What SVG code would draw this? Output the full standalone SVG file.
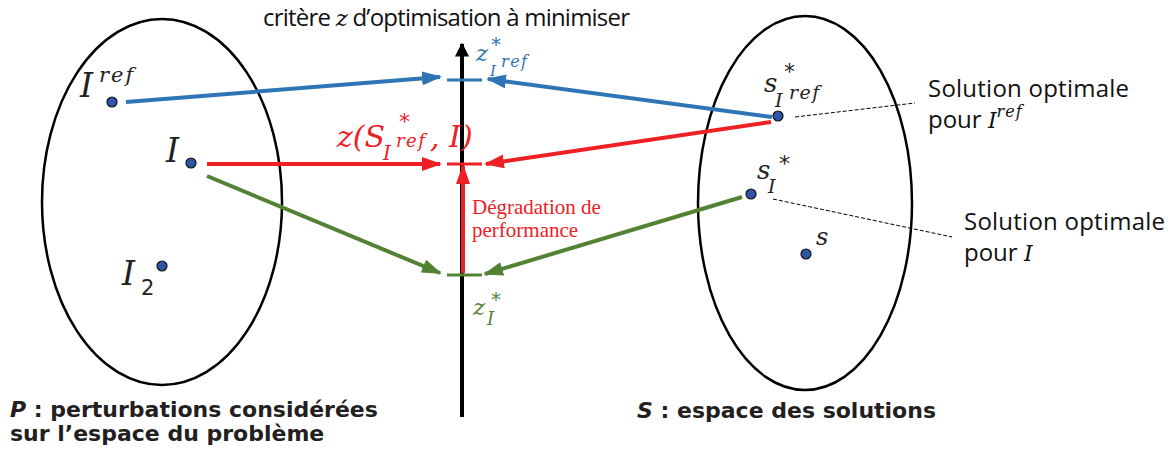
<svg xmlns="http://www.w3.org/2000/svg" width="1171" height="450" viewBox="0 0 1171 450">
<defs>
<style>
.ell{fill:none;stroke:#000;stroke-width:2.5}
.dot{fill:#2F55A4;stroke:#111;stroke-width:1.2}
.m{font-family:"DejaVu Serif","Liberation Serif",serif;font-style:italic}
.st{font-family:"DejaVu Sans",sans-serif}
.t{font-family:"Open Sans","Noto Sans",sans-serif;font-size:24px;fill:#111}
.b{font-family:"DejaVu Sans",Verdana,sans-serif;font-weight:bold;font-size:22px;fill:#231F20}
.blue{stroke:#2E75B6}
.red{stroke:#EE2024}
.green{stroke:#548235}
.ln{stroke-width:4;fill:none}
</style>
<marker id="ab" viewBox="0 0 10 7" refX="9" refY="3.5" markerWidth="5" markerHeight="3.5" orient="auto" markerUnits="strokeWidth"><path d="M0,0 L10,3.5 L0,7 z" fill="#2E75B6"/></marker>
<marker id="ar" viewBox="0 0 10 7" refX="9" refY="3.5" markerWidth="5" markerHeight="3.5" orient="auto" markerUnits="strokeWidth"><path d="M0,0 L10,3.5 L0,7 z" fill="#EE2024"/></marker>
<marker id="ag" viewBox="0 0 10 7" refX="9" refY="3.5" markerWidth="5" markerHeight="3.5" orient="auto" markerUnits="strokeWidth"><path d="M0,0 L10,3.5 L0,7 z" fill="#548235"/></marker>
<marker id="ak" viewBox="0 0 10 10" refX="9" refY="5" markerWidth="3.5" markerHeight="3.5" orient="auto" markerUnits="strokeWidth"><path d="M0,0 L10,5 L0,10 z" fill="#000"/></marker>
</defs>
<rect width="1171" height="450" fill="#fff"/>

<g id="spaceP">
<ellipse class="ell" cx="162" cy="202" rx="120" ry="183"/>
<text class="b" x="10" y="417"><tspan font-style="italic">P</tspan> : perturbations considérées</text>
<text class="b" x="10" y="441">sur l’espace du problème</text>
</g>
<g id="spaceS">
<ellipse class="ell" cx="805" cy="203" rx="107" ry="187"/>
<text class="b" x="637" y="418"><tspan font-style="italic">S</tspan> : espace des solutions</text>
</g>

<g id="axis">
<line x1="462" y1="417" x2="462" y2="44" stroke="#000" stroke-width="4" marker-end="url(#ak)"/>
<text class="t" x="263" y="26" font-size="20.5" textLength="367" lengthAdjust="spacing">critère <tspan class="m" font-size="23">z</tspan>  d’optimisation à minimiser</text>
</g>

<g id="ticks">
<line x1="447" y1="80" x2="482" y2="80" class="blue" stroke-width="3"/>
<line x1="447" y1="164" x2="482" y2="164" class="red" stroke-width="3"/>
<line x1="447" y1="275" x2="482" y2="275" class="green" stroke-width="3"/>
</g>

<g id="connectors">
<line x1="126" y1="102" x2="440" y2="77" class="ln blue" marker-end="url(#ab)"/>
<line x1="772" y1="117" x2="488" y2="79" class="ln blue" marker-end="url(#ab)"/>
<line x1="207" y1="164" x2="440" y2="164" class="ln red" marker-end="url(#ar)"/>
<line x1="771" y1="122" x2="486" y2="164" class="ln red" marker-end="url(#ar)"/>
<line x1="207" y1="176" x2="440" y2="273" class="ln green" marker-end="url(#ag)"/>
<line x1="742" y1="197" x2="485" y2="274" class="ln green" marker-end="url(#ag)"/>
<line x1="463" y1="273" x2="463" y2="166" class="ln red" marker-end="url(#ar)"/>
<line x1="795" y1="117" x2="915" y2="103" stroke="#000" stroke-width="1" stroke-dasharray="4,2"/>
<line x1="773" y1="199" x2="952" y2="237" stroke="#000" stroke-width="1" stroke-dasharray="4,2"/>
</g>

<g id="Iref">
<circle class="dot" cx="112" cy="102" r="5"/>
<text class="m" x="80" y="97" font-size="33" fill="#222">I</text>
<text class="m" x="99" y="82" font-size="21" letter-spacing="2" fill="#222">ref</text>
</g>
<g id="I">
<circle class="dot" cx="191" cy="163" r="5"/>
<text class="m" x="166" y="162" font-size="33" fill="#222">I</text>
</g>
<g id="I2">
<circle class="dot" cx="162" cy="266" r="5"/>
<text class="m" x="122" y="285" font-size="33" fill="#222">I</text>
<text class="st" x="141" y="295" font-size="21" fill="#222">2</text>
</g>

<g id="zIref">
<text class="m" x="476" y="61" font-size="23" fill="#2E75B6">z</text>
<text class="st" x="491" y="51" font-size="20" fill="#2E75B6">*</text>
<text class="m" x="490" y="76" font-size="15" fill="#2E75B6">I</text>
<text class="m" x="501" y="67" font-size="16" letter-spacing="1.5" fill="#2E75B6">ref</text>
</g>

<g id="zSI">
<text class="m" x="337" y="147" font-size="30" fill="#EE2024">z(S</text>
<text class="m" x="383" y="160" font-size="20" fill="#EE2024">I</text>
<text class="m" x="396" y="147" font-size="18" letter-spacing="1.5" fill="#EE2024">ref</text>
<text class="st" x="399" y="129" font-size="22" fill="#EE2024">*</text>
<text class="m" x="430" y="147" font-size="30" fill="#EE2024">, I)</text>
</g>

<g id="degradation">
<text x="472" y="214" font-family="Liberation Serif,serif" font-size="21" fill="#EE2024">Dégradation de</text>
<text x="472" y="237" font-family="Liberation Serif,serif" font-size="21" fill="#EE2024">performance</text>
</g>

<g id="zI">
<text class="m" x="473" y="315" font-size="23" fill="#548235">z</text>
<text class="st" x="491" y="306" font-size="20" fill="#548235">*</text>
<text class="m" x="487" y="325" font-size="18" fill="#548235">I</text>
</g>

<g id="sIref">
<circle class="dot" cx="778" cy="116" r="5"/>
<text class="m" x="764" y="92" font-size="26" fill="#222">s</text>
<text class="st" x="784" y="79" font-size="22" fill="#222">*</text>
<text class="m" x="775" y="107" font-size="19" fill="#222">I</text>
<text class="m" x="789" y="99" font-size="19" letter-spacing="1.5" fill="#222">ref</text>
</g>
<g id="sI">
<circle class="dot" cx="751" cy="194" r="5"/>
<text class="m" x="757" y="179" font-size="26" fill="#222">s</text>
<text class="st" x="779" y="171" font-size="22" fill="#222">*</text>
<text class="m" x="768" y="193" font-size="19" fill="#222">I</text>
</g>
<g id="s">
<circle class="dot" cx="806" cy="254" r="5"/>
<text class="m" x="816" y="245" font-size="24" fill="#222">s</text>
</g>

<g id="labelIref">
<text class="t" x="928" y="97" textLength="201" lengthAdjust="spacing">Solution optimale</text>
<text class="t" x="928" y="128">pour <tspan class="m" font-size="22">I</tspan><tspan class="m" font-size="16" letter-spacing="1" dy="-11">ref</tspan></text>
</g>
<g id="labelI">
<text class="t" x="964" y="230" textLength="201" lengthAdjust="spacing">Solution optimale</text>
<text class="t" x="964" y="261">pour <tspan class="m" font-size="22">I</tspan></text>
</g>
</svg>
